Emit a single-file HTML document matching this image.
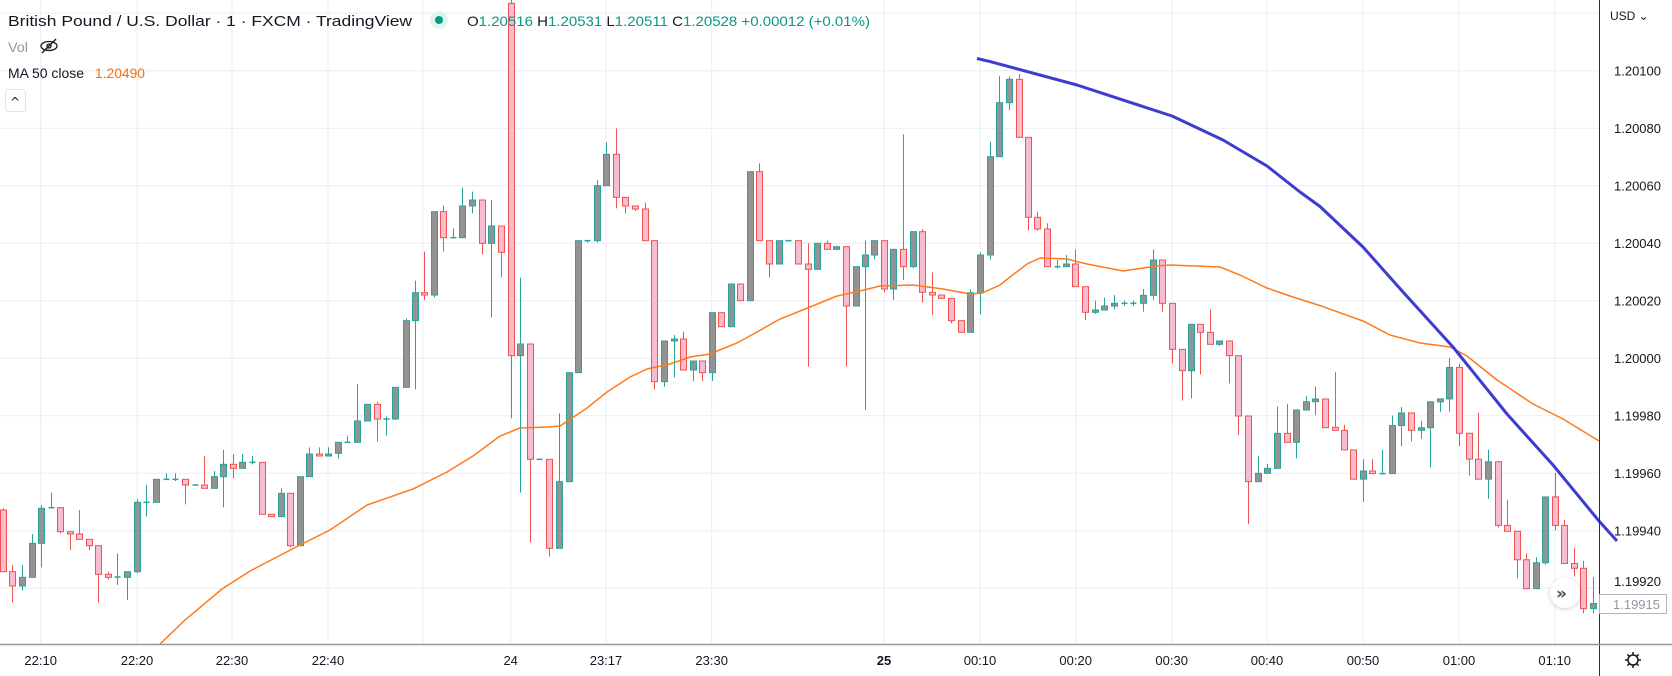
<!DOCTYPE html>
<html><head><meta charset="utf-8">
<style>
html,body{margin:0;padding:0;background:#fff;}
body{width:1672px;height:676px;overflow:hidden;position:relative;font-family:"Liberation Sans",sans-serif;}
svg{position:absolute;left:0;top:0;}
</style></head><body>
<svg id="s" width="1672" height="676" viewBox="0 0 1672 676" xmlns="http://www.w3.org/2000/svg">
<defs><clipPath id="c"><rect x="0" y="0" width="1599" height="644"/></clipPath>
<filter id="sh" x="-50%" y="-50%" width="200%" height="200%"><feDropShadow dx="0" dy="1" stdDeviation="2" flood-color="#000" flood-opacity="0.2"/></filter></defs>
<g id="grid"></g>
<g id="cand" clip-path="url(#c)"></g>
<g id="lines" clip-path="url(#c)"></g>
<g id="blue"></g>
<line x1="1599.5" y1="0" x2="1599.5" y2="676" stroke="#2a2e39" stroke-width="1"/>
<line x1="0" y1="644.5" x2="1672" y2="644.5" stroke="#9598a1" stroke-width="1.5"/>
<g id="labels" font-family="Liberation Sans, sans-serif" font-size="13" fill="#131722"></g>
<rect x="1599.5" y="594.5" width="67" height="19" fill="#fff" stroke="#b2b5be"/>
<text x="1613" y="609" font-family="Liberation Sans, sans-serif" font-size="13" fill="#9598a1">1.19915</text>
<text x="1610" y="20" font-family="Liberation Sans, sans-serif" font-size="12" fill="#131722">USD ⌄</text>
<circle cx="1565" cy="593" r="15" fill="#fff" filter="url(#sh)"/>
<text x="1556" y="599" font-family="DejaVu Sans, sans-serif" font-size="17" font-weight="bold" fill="#4a4e59">»</text>
<g transform="translate(1633,660)" stroke="#131722" stroke-width="1.5" fill="none">
<circle r="5"/>
<g id="gear"></g>
</g>
<circle cx="439" cy="20" r="9" fill="#dff3ef"/>
<circle cx="439" cy="20" r="4" fill="#089981"/>
<rect x="5.5" y="89.5" width="20" height="22" rx="3" fill="#fff" stroke="#e0e3eb"/>
<text x="10" y="106" font-family="DejaVu Sans, sans-serif" font-size="12" fill="#131722">^</text>
<g font-family="Liberation Sans, sans-serif">
<text x="8" y="26" font-size="15" fill="#131722" textLength="404" lengthAdjust="spacingAndGlyphs">British Pound / U.S. Dollar · 1 · FXCM · TradingView</text>
<text x="467" y="26" font-size="14" fill="#089981" textLength="403" lengthAdjust="spacingAndGlyphs"><tspan fill="#131722">O</tspan>1.20516 <tspan fill="#131722">H</tspan>1.20531 <tspan fill="#131722">L</tspan>1.20511 <tspan fill="#131722">C</tspan>1.20528 +0.00012 (+0.01%)</text>
<text x="8" y="52" font-size="14" fill="#9598a1" textLength="20" lengthAdjust="spacingAndGlyphs">Vol</text>
<text x="8" y="78" font-size="14" fill="#131722" textLength="76" lengthAdjust="spacingAndGlyphs">MA 50 close</text>
<text x="95" y="78" font-size="14" fill="#ff6d00" textLength="50" lengthAdjust="spacingAndGlyphs">1.20490</text>
</g>
<g stroke="#131722" stroke-width="1.3" fill="none"><ellipse cx="49" cy="46" rx="8" ry="4.5"/><circle cx="49" cy="46" r="2"/><line x1="42" y1="53" x2="56" y2="39"/></g>
</svg>
<script>
var NS="http://www.w3.org/2000/svg";
function el(p,t,a){var e=document.createElementNS(NS,t);for(var k in a)e.setAttribute(k,a[k]);p.appendChild(e);return e;}
var G=document.getElementById('grid');
var vx=[40.7,137,232,328,423,510.7,606,711.7,884,980,1075.7,1171.7,1267,1363,1459,1554.7];
vx.forEach(function(x){el(G,'line',{x1:x,y1:0,x2:x,y2:644,stroke:'#e9eef3','stroke-width':1});});
var prices=['1.20100','1.20080','1.20060','1.20040','1.20020','1.20000','1.19980','1.19960','1.19940','1.19920'];
var L=document.getElementById('labels');
for(var k=-1;k<10;k++){var y=70.7+57.5*k;el(G,'line',{x1:0,y1:y,x2:1599,y2:y,stroke:'#e9eef3','stroke-width':1});
 if(k>=0&&k<9){var t=el(L,'text',{x:1614,y:y+5});t.textContent=prices[k];}}
var t9=el(L,'text',{x:1614,y:70.7+57.5*9-2});t9.textContent=prices[9];
var tl=[[40.7,'22:10'],[137,'22:20'],[232,'22:30'],[328,'22:40'],[510.7,'24'],[606,'23:17'],[711.7,'23:30'],[884,'25'],[980,'00:10'],[1075.7,'00:20'],[1171.7,'00:30'],[1267,'00:40'],[1363,'00:50'],[1459,'01:00'],[1554.7,'01:10']];
tl.forEach(function(a){var t=el(L,'text',{x:a[0],y:665,'text-anchor':'middle'});if(a[1]=='25')t.setAttribute('font-weight','bold');t.textContent=a[1];});
var gg=document.getElementById('gear');
for(var i=0;i<8;i++){var an=i*Math.PI/4;el(gg,'line',{x1:5*Math.cos(an),y1:5*Math.sin(an),x2:8*Math.cos(an),y2:8*Math.sin(an)});}
var Z=[
[0,150,3,3,[[8,1080,1265,1075,1265,'r'],[36,1265,1308,1245,1358,'r'],[65,1282,1308,1245,1322,'g'],[95,1180,1282,1152,1282,'g'],[122,1075,1180,1065,1252,'g'],[152,1073,1073,1028,1075,'g'],[181,1073,1145,1073,1150,'r'],[209,1145,1152,1145,1200,'r'],[238,1152,1168,1080,1168,'r'],[266,1168,1187,1168,1200,'r'],[295,1187,1273,1187,1358,'r'],[325,1273,1282,1265,1288,'r'],[352,1281,1281,1210,1305,'g'],[381,1265,1282,1265,1350,'g'],[411,1057,1265,1048,1270,'g'],[439,1057,1057,1005,1100,'g'],[468,988,1057,988,1057,'g'],[497,988,988,970,990,'g'],[525,988,988,970,993,'g'],[555,988,1005,988,1063,'r'],[584,1005,1005,1005,1005,'g'],[612,1005,1015,918,1015,'r'],[641,980,1015,963,1015,'g'],[668,943,980,900,1072,'g'],[698,943,955,912,985,'r'],[727,937,955,912,955,'g'],[755,937,937,918,943,'g'],[785,937,1093,937,1093,'r'],[814,1093,1100,1093,1100,'r'],[842,1030,1100,1015,1100,'g'],[871,1030,1187,1030,1192,'r'],[900,980,1187,980,1187,'g'],[928,912,980,892,980,'g'],[957,912,918,892,918,'r'],[985,912,918,892,918,'g'],[1013,877,910,877,925,'g']]],
[330,40,3,3,[[52,1207,1207,1188,1207,'g'],[80,1143,1207,1032,1207,'g'],[110,1093,1143,1093,1143,'g'],[140,1093,1137,1085,1205,'r'],[167,1137,1137,1130,1187,'g'],[196,1042,1137,1042,1140,'g'],[227,842,1042,835,1042,'g'],[254,758,842,722,1048,'g'],[283,758,765,635,780,'r'],[312,515,765,515,772,'g'],[340,515,593,497,635,'r'],[369,593,593,565,593,'g'],[397,498,593,443,593,'g'],[426,480,498,455,520,'g'],[456,480,610,480,643,'r'],[483,558,610,480,832,'g'],[512,558,637,558,712,'r'],[542,-110,947,-120,1135,'r'],[570,912,947,713,1358,'g'],[599,912,1258,912,1507,'r'],[628,1258,1258,1258,1258,'g'],[656,1258,1525,1258,1550,'r'],[686,1325,1525,1120,1525,'g'],[716,998,1325,998,1325,'g'],[743,602,998,602,998,'g'],[772,602,602,602,608,'g'],[800,437,602,420,608,'g'],[829,343,437,307,437,'g'],[859,343,472,265,505,'r'],[886,472,498,472,520,'r'],[915,498,507,498,513,'r'],[944,507,602,488,602,'r'],[972,602,1025,602,1048,'r'],[1001,903,1025,903,1040,'g']]],
[660,40,3,3,[[41,897,903,885,1012,'g'],[68,897,990,875,990,'r'],[98,963,990,963,1023,'g'],[125,963,998,963,1023,'r'],[155,818,998,818,1023,'g'],[184,818,860,818,860,'r'],[212,732,860,732,860,'g'],[241,732,782,732,782,'r'],[270,395,782,395,782,'g'],[298,395,602,370,602,'r'],[327,602,672,602,712,'r'],[356,602,672,602,672,'g'],[384,602,602,602,602,'g'],[413,602,672,602,672,'r'],[443,672,688,610,980,'r'],[471,610,688,610,688,'g'],[500,610,628,602,628,'r'],[528,620,628,620,628,'g'],[557,620,798,620,980,'r'],[587,680,798,680,798,'g'],[614,645,680,602,1110,'g'],[643,602,645,602,658,'g'],[673,602,747,602,757,'r'],[700,628,747,628,780,'g'],[730,628,680,283,720,'r'],[760,575,680,575,685,'g'],[787,575,757,567,788,'r'],[817,757,765,697,825,'r'],[843,765,775,765,775,'r'],[873,775,842,775,850,'r'],[903,842,877,842,877,'r'],[930,758,877,748,877,'g'],[960,645,758,637,823,'g'],[989,350,645,305,658,'g'],[1016,188,350,108,350,'g']]],
[990,40,3,3,[[56,118,188,110,210,'g'],[86,118,292,102,292,'r'],[113,292,532,292,572,'r'],[142,532,567,515,572,'r'],[172,567,680,550,680,'r'],[200,680,680,660,685,'g'],[229,672,680,645,680,'g'],[256,672,740,628,740,'r'],[286,740,817,740,840,'r'],[315,810,817,782,822,'g'],[343,798,810,773,810,'g'],[372,790,798,765,808,'g'],[401,790,790,782,798,'g'],[430,790,790,782,798,'g'],[458,766,790,747,815,'g'],[488,660,766,628,780,'g'],[516,660,790,660,815,'r'],[545,790,928,790,970,'r'],[575,928,992,928,1082,'r'],[602,853,992,853,1075,'g'],[631,853,877,853,1003,'r'],[659,877,913,808,913,'r'],[688,903,913,903,918,'g'],[718,903,947,903,1030,'r'],[745,947,1128,947,1185,'r'],[775,1128,1325,1128,1452,'r'],[804,1300,1325,1248,1325,'g'],[831,1285,1300,1272,1300,'g'],[860,1180,1285,1100,1285,'g'],[890,1180,1207,1092,1207,'r'],[918,1110,1207,1110,1255,'g'],[947,1085,1110,1068,1110,'g'],[975,1077,1085,1040,1125,'g'],[1005,1077,1163,1077,1163,'r']]],
[1320,40,3,2.703,[[44,1047,1055,898,1055,'r'],[71,1055,1108,1040,1108,'r'],[100,1108,1187,1108,1187,'r'],[130,1165,1187,1133,1248,'g'],[157,1165,1172,1133,1172,'r'],[186,1172,1172,1108,1172,'g'],[215,1042,1172,1015,1172,'g'],[244,1008,1042,992,1098,'g'],[273,1008,1055,1008,1085,'r'],[302,1048,1055,1030,1078,'g'],[330,978,1048,978,1155,'g'],[360,970,978,970,1005,'g'],[388,885,970,860,1005,'g'],[417,885,1063,875,1098,'r'],[446,1063,1133,1063,1178,'r'],[474,1133,1187,1008,1187,'r'],[503,1140,1187,1108,1240,'g'],[533,1140,1312,1140,1318,'r'],[560,1312,1328,1243,1328,'r'],[590,1328,1405,1328,1455,'r'],[619,1405,1483,1388,1483,'r'],[647,1413,1483,1398,1483,'g'],[676,1235,1413,1235,1418,'g'],[704,1235,1312,1170,1325,'r'],[733,1312,1415,1297,1415,'r'],[762,1415,1428,1373,1450,'r'],[790,1428,1537,1408,1550,'r'],[819,1523,1537,1452,1550,'g']]]
];
var C=document.getElementById('cand');
Z.forEach(function(z){var ox=z[0],oy=z[1],sx=z[2],sy=z[3];z[4].forEach(function(c){
 var x=Math.round(ox+c[0]/sx),bt=oy+c[1]/sy,bb=oy+c[2]/sy,wt=oy+c[3]/sy,wb=oy+c[4]/sy;
 var g=c[5]=='g',st=g?'#26a69a':'#ef5350',fi=g?'#939393':'#f8bbd0';
 el(C,'line',{x1:x+0.5,y1:wt,x2:x+0.5,y2:wb,stroke:st,'stroke-width':1});
 var h=bb-bt;
 if(h<2){el(C,'line',{x1:x-2.5,y1:bt,x2:x+3.5,y2:bt,stroke:st,'stroke-width':1.5});}
 else el(C,'rect',{x:x-2.5,y:bt,width:6,height:h,fill:fi,stroke:st,'stroke-width':1});
});});
var ma=[[160,644],[185,620],[222,589],[250,571],[300,545],[330,530],[367,505],[413,489],[447,472],[473,456],[500,436],[520,428],[547,427],[560,426],[587,408],[607,392],[630,377],[647,369],[670,364],[690,357],[710,354],[737,343],[757,332],[780,319],[810,307],[837,296],[860,291],[880,286],[913,285],[943,289],[970,294],[982,293],[1000,285],[1010,277],[1027,264],[1040,258],[1067,259],[1087,264],[1123,271],[1157,266],[1170,265],[1220,267],[1240,275],[1267,288],[1290,296],[1320,305.6],[1363,321],[1390,335],[1420,343],[1450,347],[1467,356],[1497,380],[1533,404],[1563,419],[1599,441]];
el(document.getElementById('lines'),'polyline',{points:ma.map(function(p){return p.join(',')}).join(' '),fill:'none',stroke:'#ff7a1a','stroke-width':1.5});
var bl=[[977,58.5],[990,61.6],[1077,85],[1172,116],[1223,140],[1267,166],[1300,192],[1320,206.5],[1363,247],[1403,292],[1453,347],[1507,414],[1553,465],[1599,521],[1617,541]];
el(document.getElementById('blue'),'polyline',{points:bl.map(function(p){return p.join(',')}).join(' '),fill:'none',stroke:'#3c3cd0','stroke-width':3,'stroke-linejoin':'round'});
</script>
</body></html>
